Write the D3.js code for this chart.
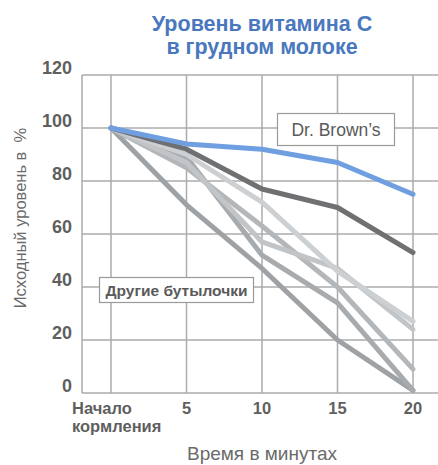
<!DOCTYPE html>
<html><head><meta charset="utf-8">
<script src="https://cdn.jsdelivr.net/npm/d3@7"></script>
<style>
html,body{margin:0;padding:0;background:#fff;}
svg{display:block;font-family:"Liberation Sans",Arial,Helvetica,sans-serif;}
</style></head>
<body>
<svg id="c" width="438" height="465"></svg>
<script>
const minutes = [0, 5, 10, 15, 20];
const xTickLabels = ["Начало\nкормления", "5", "10", "15", "20"];
const yTicks = [0, 20, 40, 60, 80, 100, 120];
const drBrown = [100, 94, 92, 87, 75];
const darkOther = [100, 92, 77, 70, 53];
const grayA = [100, 71, 47, 20, 1];
const grayB = [100, 89, 52, 34, 1];
const grayC = [100, 85, 63, 40, 9];
const grayD = [100, 87, 57, 47, 24];
const grayE = [100, 90, 72, 46, 27];
const grayColors = ["#9fa2a5", "#a8abae", "#b4b7ba", "#c2c5c8", "#cdd0d3"];
const others = [grayA, grayB, grayC, grayD, grayE];

const svg = d3.select("#c");
const x = d3.scaleLinear().domain([0, 20]).range([111, 413]);
const y = d3.scaleLinear().domain([0, 120]).range([393, 75]);
const left = 82, right = 438;

// grid
const g = svg.append("g");
g.selectAll("line.h").data(yTicks).join("line")
  .attr("x1", left).attr("x2", right)
  .attr("y1", d => y(d)).attr("y2", d => y(d))
  .attr("stroke", "#ababab").attr("stroke-width", 1.5);
g.selectAll("line.v").data(minutes).join("line")
  .attr("x1", d => x(d)).attr("x2", d => x(d))
  .attr("y1", y(120)).attr("y2", y(0))
  .attr("stroke", "#ababab").attr("stroke-width", 1.5);
g.append("line").attr("x1", left).attr("x2", left).attr("y1", y(120)).attr("y2", y(0))
  .attr("stroke", "#ababab").attr("stroke-width", 1.5);

// y tick labels
svg.selectAll("text.yt").data(yTicks).join("text")
  .attr("x", 72).attr("y", d => y(d) - 1)
  .attr("text-anchor", "end")
  .attr("font-size", 18).attr("font-weight", "bold").attr("fill", "#5f5f5f")
  .text(d => d);

// x tick labels
minutes.forEach((m, i) => {
  const lines = xTickLabels[i].split("\n");
  const xp = i === 0 ? 72 : x(m);
  lines.forEach((l, j) => {
    svg.append("text")
      .attr("font-size", 16.5).attr("font-weight", "bold").attr("fill", "#5f5f5f")
      .attr("x", xp).attr("y", 414 + j * 18)
      .attr("text-anchor", i === 0 ? "start" : "middle")
      .text(l);
  });
});

// axis titles
svg.append("text").attr("x", 262).attr("y", 460).attr("text-anchor", "middle")
  .attr("font-size", 19).attr("fill", "#6a6a6a").text("Время в минутах");
svg.append("text").attr("transform", "translate(26,218) rotate(-90)")
  .attr("text-anchor", "middle").attr("font-size", 16.5).attr("fill", "#6a6a6a")
  .attr("xml:space", "preserve")
  .text("Исходный уровень в  %");

// title
const title = svg.append("text").attr("text-anchor", "middle")
  .attr("font-size", 21.5).attr("font-weight", "bold").attr("fill", "#4a78be");
title.append("tspan").attr("x", 262).attr("y", 31).text("Уровень витамина C");
title.append("tspan").attr("x", 262).attr("y", 53.5).text("в грудном молоке");

// lines
const line = d3.line().x((d, i) => x(minutes[i])).y(d => y(d));
svg.selectAll("path.o").data(others).join("path")
  .attr("d", line).attr("fill", "none")
  .attr("stroke", (d, i) => grayColors[i]).attr("stroke-width", 5)
  .attr("stroke-linejoin", "round").attr("stroke-linecap", "round");
svg.append("path").datum(darkOther).attr("d", line).attr("fill", "none")
  .attr("stroke", "#6f7072").attr("stroke-width", 5)
  .attr("stroke-linejoin", "round").attr("stroke-linecap", "round");
svg.append("path").datum(drBrown).attr("d", line).attr("fill", "none")
  .attr("stroke", "#6f9fe0").attr("stroke-width", 5)
  .attr("stroke-linejoin", "round").attr("stroke-linecap", "round");

// label boxes
svg.append("rect").attr("x", 277.5).attr("y", 113.5).attr("width", 117).attr("height", 32)
  .attr("fill", "#fff").attr("stroke", "#9a9a9a").attr("stroke-width", 1.2);
svg.append("text").attr("x", 336).attr("y", 136).attr("text-anchor", "middle")
  .attr("font-size", 17.5).attr("fill", "#5a5a5a").text("Dr. Brown’s");
svg.append("rect").attr("x", 99.5).attr("y", 277.5).attr("width", 154).attr("height", 25)
  .attr("fill", "#fff").attr("stroke", "#9a9a9a").attr("stroke-width", 1.2);
svg.append("text").attr("x", 176.5).attr("y", 295.5).attr("text-anchor", "middle")
  .attr("font-size", 15.5).attr("font-weight", "bold").attr("fill", "#5a5a5a").text("Другие бутылочки");
</script>
</body></html>
